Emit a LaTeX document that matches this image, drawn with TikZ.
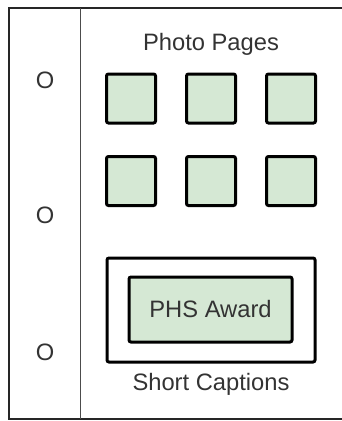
\documentclass[tikz,border=0pt]{standalone}
\usepackage{fontspec}
\setmainfont{Liberation Sans}
\definecolor{photofill}{HTML}{D5E8D4}
\definecolor{inkgray}{HTML}{333333}

\tikzset{every picture/.style={line width=0.75pt}}
\tikzset{
  photo/.style={draw=black, fill=photofill, line width=2.25, rounded corners=1.5, minimum width=36.75pt, minimum height=36.75pt, inner sep=0},
  label/.style={text=inkgray, inner sep=0.75pt, font=\fontsize{17.8}{20}\selectfont},
  hole/.style={text=inkgray, inner sep=0.75pt, font=\fontsize{17.8}{20}\selectfont}
}

\begin{document}
\begin{tikzpicture}[x=0.75pt,y=0.75pt,yscale=-1,xscale=1]
\useasboundingbox (0,0) rectangle (342,421);
\clip (0,0) rectangle (342,421);

%Shape: Page frame
\draw [color=black!85, line width=1.5] (350,8) -- (9,8) -- (9,418.5) -- (350,418.5) ;
%Straight Lines: binding edge
\draw [color=black!70, line width=1.1] (80.5,8) -- (80.5,418.5) ;

% Text Node
\node [hole] (hole1) at (45,80) {O};
% Text Node
\node [hole] (hole2) at (45,215) {O};
% Text Node
\node [hole] (hole3) at (45,352) {O};

% Text Node
\node [label] (pages) at (211,44.5) {Photo Pages};

%Shape: Squares
\node [photo] (p11) at (131,98.5) {};
\node [photo] (p12) at (211,98.5) {};
\node [photo] (p13) at (291,98.5) {};
\node [photo] (p21) at (131,181) {};
\node [photo] (p22) at (211,181) {};
\node [photo] (p23) at (291,181) {};

%Shape: Caption box
\draw [line width=2.25, rounded corners=1.5] (107,258) rectangle (315,362) ;
\node [photo, minimum width=122.25pt, minimum height=48.75pt] (award) at (210.5,309.5) {};
\node [label] (awardtext) at (award) {PHS Award};

% Text Node
\node [label] (captions) at (211,384) {Short Captions};

\end{tikzpicture}
\end{document}
